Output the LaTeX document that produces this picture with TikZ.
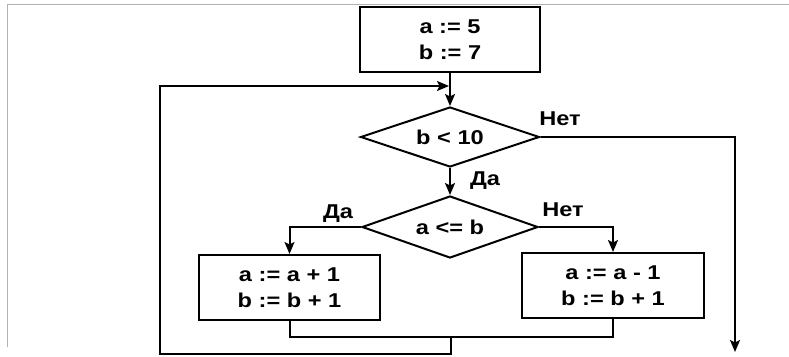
\documentclass[tikz,border=0pt]{standalone}
\usepackage{fontspec}
\setmainfont{Liberation Sans}[FakeStretch=1.18]
\usetikzlibrary{shapes.geometric,arrows.meta}
\begin{document}
\begin{tikzpicture}[x=1pt,y=-1pt,
  every node/.style={font=\fontsize{20}{26.5}\selectfont\bfseries},
  box/.style={draw,line width=2pt,rectangle,align=center,inner sep=0pt},
  dec/.style={draw,line width=2pt,diamond,inner sep=0pt,aspect=3},
  line/.style={line width=2pt},
  arr/.style={line, -{Stealth[length=12pt,width=10pt,inset=2.5pt]}},
  lbl/.style={inner sep=0pt,anchor=base},
  frame/.style={draw=black!30,line width=0.9pt}
]
\useasboundingbox (0,0) rectangle (789,356);
\draw[frame] (7,347) -- (7,4) -- (789,4);

\node[box,minimum width=180pt,minimum height=65pt] (init) at (450,39.5) {a := 5\\b := 7};
\node[dec,minimum width=179pt,minimum height=60pt] (c1) at (450,137) {b < 10};
\node[dec,minimum width=176pt,minimum height=62pt] (c2) at (450,227) {a <= b};
\node[box,minimum width=181pt,minimum height=65pt] (ab) at (289.5,287.5) {a := a + 1\\b := b + 1};
\node[box,minimum width=182pt,minimum height=65pt] (sb) at (613,285.5) {a := a - 1\\b := b + 1};

\coordinate (entry) at (449,86);
\coordinate (lefttop) at (160,86);
\coordinate (leftbot) at (160,354);
\coordinate (merge) at (451,337);
\coordinate (bottom) at (451,354);
\coordinate (exit) at (735,352);

\draw[arr] (init.south) -- (c1.north);
\draw[arr] (c1.south) -- (c2.north);
\draw[arr] (c2.west) -| (ab.north);
\draw[arr] (c2.east) -| (sb.north);
\draw[arr] (c1.east) -| (exit);
\draw[line] (ab.south) |- (merge) -| (sb.south);
\draw[arr] (merge) -- (bottom) -- (leftbot) -- (lefttop) -- (entry);

\node[lbl] (no1) at (560,125.5) {Нет};
\node[lbl] (yes1) at (485,185.5) {Да};
\node[lbl] (yes2) at (338,218) {Да};
\node[lbl] (no2) at (563,216) {Нет};
\end{tikzpicture}
\end{document}
